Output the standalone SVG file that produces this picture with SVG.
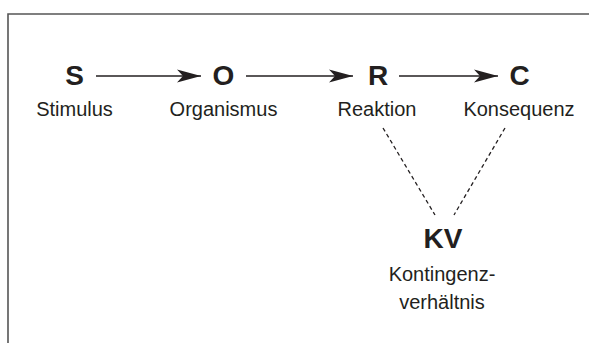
<svg xmlns="http://www.w3.org/2000/svg" width="589" height="343" viewBox="0 0 589 343">
  <style>
    .sym { font-family: "Liberation Sans", Arial, sans-serif; font-weight: bold; font-size: 28px; fill: #231f20; text-anchor: middle; }
    .lbl { font-family: "Liberation Sans", Arial, sans-serif; font-size: 20px; fill: #231f20; text-anchor: middle; }
    .arrow { stroke: #231f20; stroke-width: 1.5; fill: none; marker-end: url(#head); }
    .dash { stroke: #231f20; stroke-width: 1.3; fill: none; stroke-dasharray: 4 3; }
    .frame { stroke: #555; stroke-width: 1.6; fill: none; }
  </style>
  <defs>
    <marker id="head" markerUnits="userSpaceOnUse" markerWidth="26" markerHeight="16" viewBox="-25 -8 26 16" refX="0" refY="0" orient="auto">
      <path d="M0,0 L-24,-6.5 L-18,0 L-24,6.5 Z" fill="#231f20"/>
    </marker>
  </defs>

  <rect width="589" height="343" fill="#fff"/>
  <!-- open frame: top and left edges only -->
  <path class="frame" d="M589,14 H8 V343"/>

  <g id="connectors">
    <line class="arrow" x1="96" y1="76" x2="201" y2="76"/>
    <line class="arrow" x1="246" y1="76" x2="353" y2="76"/>
    <line class="arrow" x1="399" y1="76" x2="498" y2="76"/>
    <line class="dash" x1="383" y1="128" x2="435" y2="215"/>
    <line class="dash" x1="505" y1="128" x2="454" y2="215"/>
  </g>

  <g id="node-S">
    <text class="sym" x="74.5" y="85">S</text>
    <text class="lbl" x="74.5" y="116">Stimulus</text>
  </g>
  <g id="node-O">
    <text class="sym" x="223.5" y="85">O</text>
    <text class="lbl" x="223.5" y="116">Organismus</text>
  </g>
  <g id="node-R">
    <text class="sym" x="378" y="85">R</text>
    <text class="lbl" x="377" y="116">Reaktion</text>
  </g>
  <g id="node-C">
    <text class="sym" x="519.5" y="85">C</text>
    <text class="lbl" x="519" y="116">Konsequenz</text>
  </g>
  <g id="node-KV">
    <text class="sym" x="443" y="248">KV</text>
    <text class="lbl" x="442" y="281">Kontingenz-</text>
    <text class="lbl" x="442" y="309">verhältnis</text>
  </g>
</svg>
